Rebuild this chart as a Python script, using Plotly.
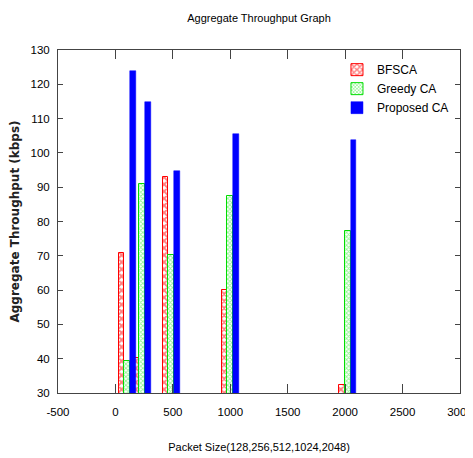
import plotly.graph_objects as go

packet_sizes = [128, 256, 512, 1024, 2048]
bfsca = [70.8, 40.1, 92.9, 60.1, 32.2]
greedy_ca = [39.4, 91.0, 70.3, 87.5, 77.1]
proposed_ca = [123.8, 114.8, 94.7, 105.5, 103.7]

x_ticks = [-500, 0, 500, 1000, 1500, 2000, 2500, 3000]
x_tick_labels = ["-500", "0", "500", "1000", "1500", "2000", "2500", "3000"]
y_ticks = [30, 40, 50, 60, 70, 80, 90, 100, 110, 120, 130]

fig = go.Figure()
fig.add_trace(go.Bar(
    x=packet_sizes, y=bfsca, name="BFSCA", width=50, offset=-100,
    marker=dict(color="white", line=dict(color="#ff0000", width=1),
                pattern=dict(shape="x", fgcolor="#ff0000", bgcolor="white", size=5, solidity=0.6)),
))
fig.add_trace(go.Bar(
    x=packet_sizes, y=greedy_ca, name="Greedy CA", width=50, offset=-50,
    marker=dict(color="white", line=dict(color="#00dd00", width=1),
                pattern=dict(shape="x", fgcolor="#22ee22", bgcolor="white", size=3, solidity=0.5)),
))
fig.add_trace(go.Bar(
    x=packet_sizes, y=proposed_ca, name="Proposed CA", width=50, offset=0,
    marker=dict(color="#0000ff", line=dict(color="#0000ff", width=0.5)),
))

FAM = "Liberation Sans, Arial, sans-serif"

def cfont(size):
    return dict(family=FAM, size=size, color="black")

fig.update_layout(
    width=465, height=450,
    margin=dict(l=50, r=13, t=42, b=65, autoexpand=False),
    paper_bgcolor="white", plot_bgcolor="white",
    barmode="overlay", bargap=0,
    title=dict(text="Aggregate Throughput Graph", x=0.5, xref="paper", xanchor="center", y=0.985, yanchor="top",
               font=cfont(11)),
    showlegend=True,
    legend=dict(x=0.985, y=0.985, xanchor="right", yanchor="top", bgcolor="rgba(0,0,0,0)",
                font=cfont(12), tracegroupgap=0),
    font=cfont(11),
)
fig.update_xaxes(
    range=[-500, 3000], tickvals=x_ticks, ticktext=x_tick_labels, ticks="inside", ticklen=9, tickcolor="#444",
    showline=True, linecolor="#444", linewidth=1, mirror="ticks", showgrid=False, zeroline=False,
    tickfont=cfont(11.5), automargin=False, ticklabeloverflow="allow", ticklabelstandoff=8,
    title=dict(text="Packet Size(128,256,512,1024,2048)", standoff=26, font=cfont(11)),
)
fig.update_yaxes(
    range=[30, 130], tickvals=y_ticks, ticks="inside", ticklen=5, tickcolor="#444",
    showline=True, linecolor="#444", linewidth=1, mirror="ticks", showgrid=False, zeroline=False,
    tickfont=cfont(11.5), automargin=False, ticklabeloverflow="allow", ticklabelstandoff=5,
    title=dict(text="Aggregate Throughput (kbps)", standoff=14,
               font=dict(family="DejaVu Sans", size=12, color="#222", weight="bold")),
)

fig.write_html("out.html")
